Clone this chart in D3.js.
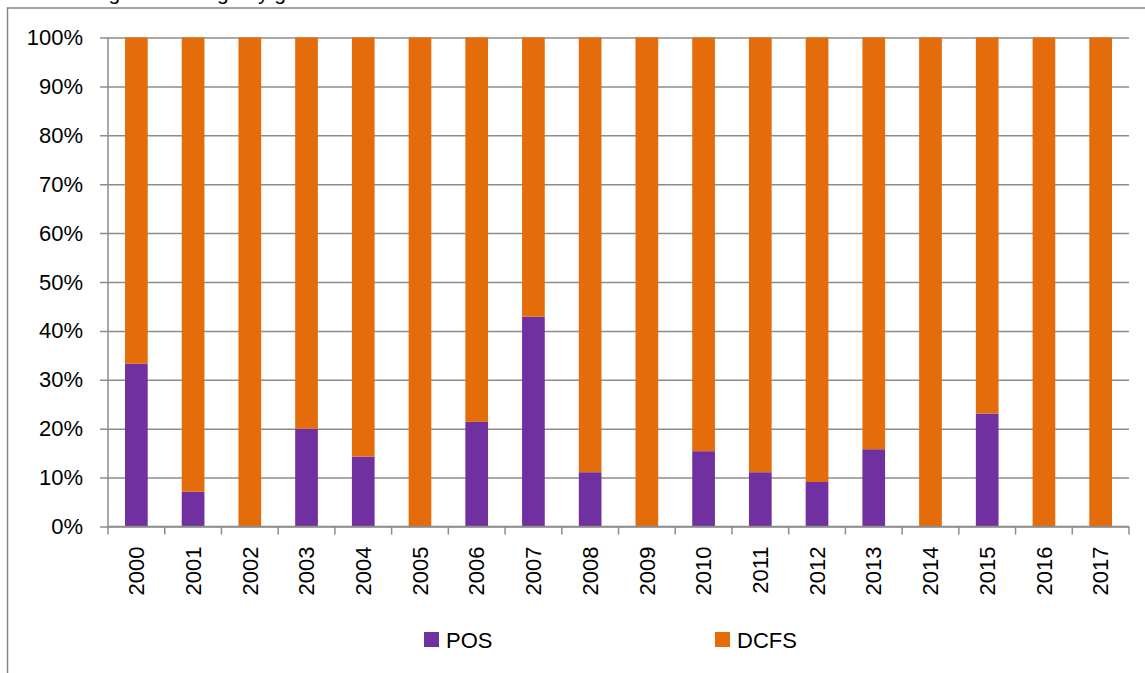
<!DOCTYPE html>
<html>
<head>
<meta charset="utf-8">
<script src="https://cdn.jsdelivr.net/npm/d3@7"></script>
<style>
  body { margin:0; background:#fff; }
  svg { display:block; font-family:"Liberation Sans", Arial, sans-serif; }
</style>
</head>
<body>
<div id="plot"></div>
<script>
// data
var years = ['2000','2001','2002','2003','2004','2005','2006','2007','2008',
             '2009','2010','2011','2012','2013','2014','2015','2016','2017'];
var pos  = [33.3, 7.1, 0, 20, 14.3, 0, 21.4, 42.9, 11.1, 0, 15.4, 11.1, 9.1, 15.8, 0, 23.1, 0, 0];
var dcfs = pos.map(function(v){ return 100 - v; });
var yTicks = [0,10,20,30,40,50,60,70,80,90,100];
var seriesNames = ['POS','DCFS'];
var colors = {POS:'#7030A0', DCFS:'#E46C0A'};

var W = 1145, H = 673;
var margin = {t:37.5, l:108, r:16, b:146.5};
var width = W - margin.l - margin.r,
    height = H - margin.t - margin.b;

var svg = d3.select('#plot').append('svg')
  .attr('width', W).attr('height', H);

// title above the frame, mostly cut off by the top edge as in the source
svg.append('text')
  .attr('x', -2).attr('y', 0)
  .style('font-size','21px')
  .text('Cases of Togo and Congo by gender');

// chart frame (runs off the right and bottom)
svg.append('rect')
  .attr('x', 7.5).attr('y', 8)
  .attr('width', W + 20).attr('height', H + 20)
  .style('fill','none').style('stroke','#868686').style('stroke-width','1.5px');

var plot = svg.append('g')
  .attr('transform','translate('+margin.l+','+margin.t+')');

var x = d3.scaleBand().domain(years).range([0, width])
  .paddingInner(0.6).paddingOuter(0.3);
var y = d3.scaleLinear().domain([0,100]).range([height, 0]);

// y axis + gridlines
var yAxis = plot.append('g')
  .call(d3.axisLeft(y).tickValues(yTicks).tickSize(-width)
    .tickFormat(function(d){ return d + '%'; }));
yAxis.select('.domain').remove();
yAxis.selectAll('line')
  .attr('x1', -8)
  .style('stroke','#8c8c8c').style('stroke-width','1.5px');
yAxis.selectAll('text')
  .attr('x', -25)
  .style('font-size','22px').style('fill','#000')
  .style('font-family','"Liberation Sans", Arial, sans-serif');

// stacked bars
var rows = years.map(function(yr,i){ return {year:yr, POS:pos[i], DCFS:dcfs[i]}; });
var stack = d3.stack().keys(seriesNames)(rows);

plot.selectAll('g.series')
  .data(stack).enter().append('g')
  .attr('class','series')
  .style('fill', function(d){ return colors[d.key]; })
  .selectAll('rect')
  .data(function(d){ return d; }).enter().append('rect')
  .attr('x', function(d){ return x(d.data.year); })
  .attr('width', x.bandwidth())
  .attr('y', function(d){ return y(d[1]); })
  .attr('height', function(d){ return y(d[0]) - y(d[1]); });

// x axis line, left axis line, boundary ticks
plot.append('line')
  .attr('x1', 0).attr('x2', width)
  .attr('y1', height).attr('y2', height)
  .style('stroke','#8c8c8c').style('stroke-width','1.5px');
plot.append('line')
  .attr('x1', 0).attr('x2', 0)
  .attr('y1', 0).attr('y2', height)
  .style('stroke','#8c8c8c').style('stroke-width','1.5px');

var step = x.step();
var bounds = d3.range(years.length + 1);
plot.selectAll('line.xtick')
  .data(bounds).enter().append('line')
  .attr('class','xtick')
  .attr('x1', function(d){ return d * step; })
  .attr('x2', function(d){ return d * step; })
  .attr('y1', height).attr('y2', height + 8)
  .style('stroke','#8c8c8c').style('stroke-width','1.5px');

var xAxis = plot.append('g')
  .attr('transform','translate(0,'+height+')')
  .call(d3.axisBottom(x).tickSize(0));
xAxis.select('.domain').remove();
xAxis.selectAll('text')
  .attr('transform','rotate(-90)')
  .attr('x', -20).attr('y', 0).attr('dy','0.35em')
  .style('text-anchor','end')
  .style('font-size','22px').style('fill','#000')
  .style('font-family','"Liberation Sans", Arial, sans-serif');

// legend
var legendX = {POS:424, DCFS:715};
var legend = svg.selectAll('g.legend')
  .data(seriesNames).enter().append('g')
  .attr('class','legend')
  .attr('transform', function(d){ return 'translate('+legendX[d]+',632)'; });
legend.append('rect')
  .attr('width', 15).attr('height', 15)
  .style('fill', function(d){ return colors[d]; });
legend.append('text')
  .attr('x', 22).attr('y', 16)
  .style('font-size','22px')
  .text(function(d){ return d; });
</script>
</body>
</html>
